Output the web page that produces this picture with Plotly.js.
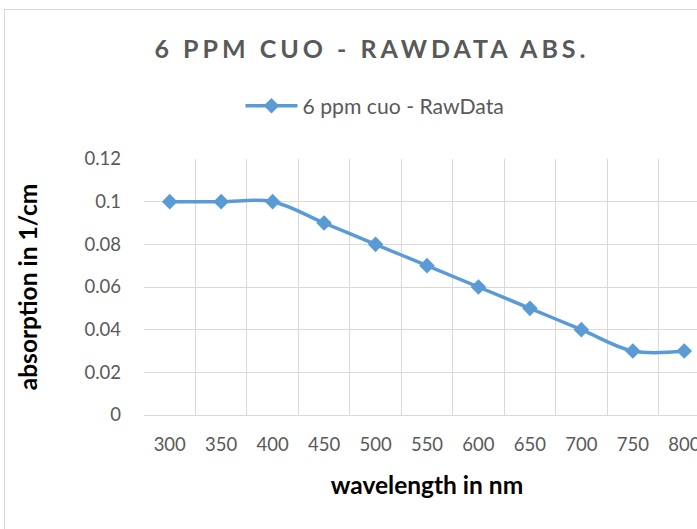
<!DOCTYPE html>
<html>
<head>
<meta charset="utf-8">
<script src="https://cdn.plot.ly/plotly-3.0.1.min.js"></script>
<style>
  html, body { margin: 0; padding: 0; overflow: hidden; width: 697px; height: 529px; background: #fff; }
  #chart { position: absolute; left: 0; top: 0; width: 730px; height: 529px; }
  #frame { position: absolute; left: 4px; top: 9px; width: 800px; height: 600px; border: 1px solid #d9d9d9; pointer-events: none; z-index: 5; }
  .gtitle { letter-spacing: 4px; }
</style>
</head>
<body>
<div id="chart"></div>
<div id="frame"></div>
<script>
const wavelengths = ['300', '350', '400', '450', '500', '550', '600', '650', '700', '750', '800'];
const absorption = [0.1, 0.1, 0.1, 0.09, 0.08, 0.07, 0.06, 0.05, 0.04, 0.03, 0.03];
const seriesName = '6 ppm cuo - RawData';
const yTickVals = [0, 0.02, 0.04, 0.06, 0.08, 0.1, 0.12];
const yTickText = ['0', '0.02', '0.04', '0.06', '0.08', '0.1', '0.12'];

const W = 730, H = 529;
const trace = {
  x: wavelengths,
  y: absorption,
  name: seriesName,
  type: 'scatter',
  mode: 'lines+markers',
  line: { color: '#5b9bd5', width: 3.5, shape: 'spline', smoothing: 1 },
  marker: { symbol: 'diamond', size: 12, color: '#5b9bd5' },
  showlegend: true
};

const layout = {
  width: W, height: H,
  margin: { l: 144, r: 20, t: 159, b: 114 },
  paper_bgcolor: '#ffffff',
  plot_bgcolor: '#ffffff',
  font: { family: 'Lato, "Open Sans", sans-serif', color: '#595959', size: 18.5 },
  title: {
    text: '6 PPM CUO - RAWDATA ABS.',
    font: { family: 'Lato, sans-serif', size: 25, color: '#595959', weight: 'bold' },
    xref: 'container', yref: 'container',
    x: 372 / W, y: 1 - 49 / H, xanchor: 'center', yanchor: 'middle'
  },
  showlegend: true,
  legend: {
    orientation: 'h',
    x: (375 - 144) / 566, xanchor: 'center',
    y: (415 - 106) / 256, yanchor: 'middle',
    font: { size: 21.2, color: '#595959' },
    itemwidth: 52,
    bgcolor: 'rgba(0,0,0,0)'
  },
  xaxis: {
    type: 'category',
    range: [-0.5, wavelengths.length - 0.5],
    tickson: 'boundaries',
    showgrid: true, gridcolor: '#d9d9d9', gridwidth: 1,
    showline: true, linecolor: '#d9d9d9', linewidth: 1,
    ticks: '', ticklabelstandoff: 13,
    tickfont: { size: 18.5, color: '#595959' },
    zeroline: false,
    automargin: false,
    title: { text: 'wavelength in nm', font: { size: 24.5, color: '#000000', weight: 'bold' }, standoff: 22 }
  },
  yaxis: {
    range: [0, 0.12],
    tickvals: yTickVals, ticktext: yTickText,
    showgrid: true, gridcolor: '#d9d9d9', gridwidth: 1,
    showline: false,
    zeroline: false,
    ticks: '', ticklabelstandoff: 22,
    tickfont: { size: 18.5, color: '#595959' },
    automargin: false,
    title: { text: 'absorption in 1/cm', font: { size: 24.5, color: '#000000', weight: 'bold' }, standoff: 39 }
  }
};

Plotly.newPlot('chart', [trace], layout, { displayModeBar: false, staticPlot: true });
</script>
</body>
</html>
